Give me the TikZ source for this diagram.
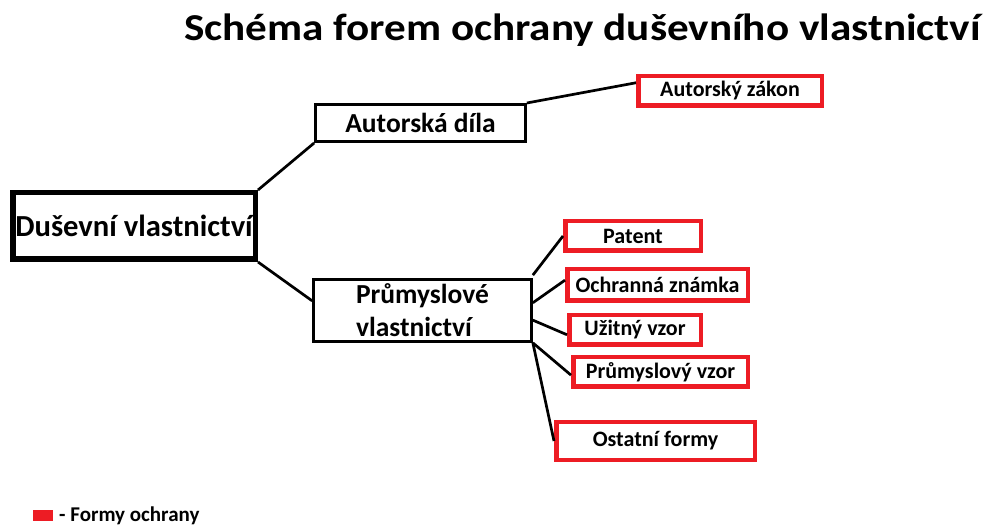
\documentclass[tikz,border=0pt]{standalone}
\usepackage{fontspec}
\setmainfont{Carlito}
\newfontfamily\titlefont[FakeStretch=1.135]{Carlito}
\usetikzlibrary{calc,positioning}
\definecolor{formred}{RGB}{237,28,36}

\begin{document}
\begin{tikzpicture}[
    x=1pt,y=-1pt,
    box/.style={draw,line width=2.7pt,inner sep=0pt,
      font=\fontsize{27.5}{33}\selectfont\bfseries},
    form/.style={draw=formred,line width=4.5pt,inner sep=0pt,
      font=\fontsize{22}{26}\selectfont\bfseries},
    link/.style={line width=2.7pt}
  ]
  \useasboundingbox (0,0) rectangle (988,526);
  % title
  \node [anchor=base west,inner sep=0pt,
      font=\titlefont\fontsize{38}{42}\selectfont\bfseries]
    (title) at (184,41) {Schéma forem ochrany duševního vlastnictví}
  ;
  % root
  \node [box,line width=5.5pt,minimum width=242.5pt,minimum height=66.5pt,
      font=\fontsize{30.6}{36}\selectfont\bfseries]
    (dusevni) at (134,226) {Duševní vlastnictví}
  ;
  % branches
  \node [box,minimum width=210pt,minimum height=37.3pt]
    (autorska) at (420.5,123) {Autorská díla}
  ;
  \node [box,align=left,minimum width=218pt,minimum height=62pt]
    (prumysl) at (422.5,310.5) {Průmyslové\\vlastnictví}
  ;
  % forms of protection
  \node [form,minimum width=183.5pt,minimum height=29.5pt]
    (zakon) at (730,91) {Autorský zákon}
  ;
  \node [form,minimum width=135.5pt,minimum height=29.5pt]
    (patent) at (633,236) {Patent}
  ;
  \node [form,minimum width=180.5pt,minimum height=31.5pt]
    (znamka) at (657.5,285) {Ochranná známka}
  ;
  \node [form,minimum width=131.5pt,minimum height=29.5pt]
    (uzitny) at (635,330) {Užitný vzor}
  ;
  \node [form,minimum width=174.5pt,minimum height=29.5pt]
    (prumvzor) at (660.5,372) {Průmyslový vzor}
  ;
  \node [form,minimum width=198.5pt,minimum height=37.5pt]
    (ostatni) at (655.5,441) {Ostatní formy}
  ;
  % connectors
  \draw [link] (dusevni.north east) -- (autorska.south west);
  \draw [link] (dusevni.south east) -- (prumysl.175);
  \draw [link] (autorska.north east) -- (zakon.175);
  \draw [link] ([yshift=3pt]prumysl.north east) -- (patent.west);
  \draw [link] (prumysl.4) -- (znamka.177);
  \draw [link] (prumysl.-5) -- (uzitny.184);
  \draw [link] (prumysl.south east) -- (prumvzor.182);
  \draw [link] (prumysl.south east) -- (ostatni.west);
  % legend
  \fill [formred] (33,510) rectangle (53,521);
  \node [anchor=base west,inner sep=0pt,
      font=\fontsize{21}{25}\selectfont\bfseries]
    (legend) at (59,521) {- Formy ochrany}
  ;
\end{tikzpicture}
\end{document}
